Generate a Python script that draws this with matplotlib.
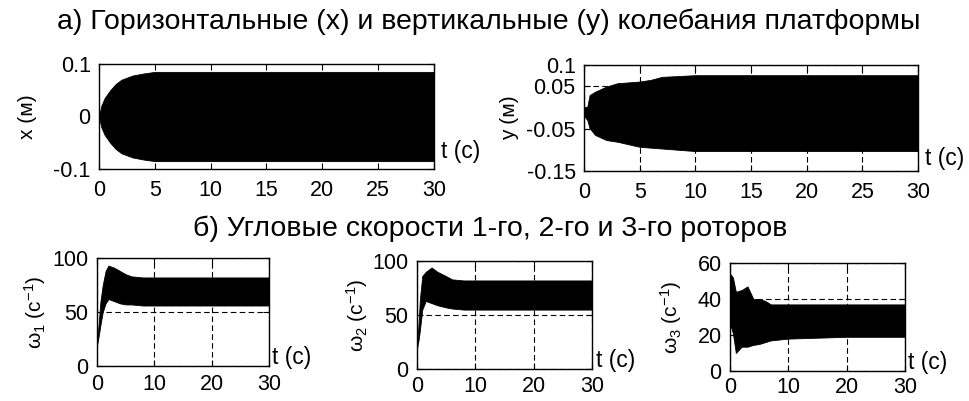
import matplotlib
matplotlib.use("Agg")
import matplotlib.pyplot as plt

plt.rcParams['font.family'] = ['Liberation Sans', 'DejaVu Sans']
plt.rcParams['mathtext.fontset'] = 'custom'
plt.rcParams['mathtext.rm'] = 'Liberation Sans'
plt.rcParams['mathtext.it'] = 'Liberation Sans:italic'

# ---- data: envelopes of the oscillating signals ----
x_t     = [0, 0.2, 0.5, 1, 1.5, 2, 3, 4, 5, 7, 10, 15, 20, 25, 30]
x_upper = [0, 0.02, 0.035, 0.05, 0.062, 0.07, 0.078, 0.082, 0.085, 0.085, 0.085, 0.085, 0.085, 0.085, 0.085]
x_lower = [0, -0.02, -0.035, -0.05, -0.062, -0.07, -0.078, -0.082, -0.085, -0.085, -0.085, -0.085, -0.085, -0.085, -0.085]

y_t     = [0, 0.3, 0.5, 1, 2, 3, 5, 6, 7, 10, 15, 20, 25, 30]
y_upper = [0.0, 0.002, 0.029, 0.037, 0.049, 0.057, 0.061, 0.065, 0.072, 0.076, 0.076, 0.076, 0.076, 0.076]
y_lower = [-0.02, -0.03, -0.049, -0.065, -0.077, -0.081, -0.093, -0.095, -0.097, -0.103, -0.103, -0.103, -0.103, -0.103]

w1_t     = [0, 0.3, 0.6, 1, 1.5, 2, 3, 4, 5, 6, 8, 10, 20, 30]
w1_upper = [19, 40, 60, 75, 88, 93, 91, 88, 85, 83, 82, 82, 82, 82]
w1_lower = [19, 28, 38, 50, 58, 62, 60, 58, 57, 57, 56, 56, 56, 56]

w2_t     = [0, 0.3, 0.5, 0.9, 1.5, 2.5, 3.5, 5, 6, 8, 10, 20, 30]
w2_upper = [19, 45, 65, 86, 90, 94, 90, 86, 83, 82, 82, 82, 82]
w2_lower = [19, 28, 36, 55, 63, 61, 59, 57, 56, 55, 55, 55, 55]

w3_t     = [0, 0.5, 1, 2, 3, 4, 5, 6, 7, 10, 20, 30]
w3_upper = [54, 52, 44, 45, 47, 40, 40, 39, 37, 37, 37, 37]
w3_lower = [26, 21, 10, 13.5, 13.5, 14.5, 15, 16, 17, 18, 19, 19]

title_a = "а) Горизонтальные (x) и вертикальные (y) колебания платформы"
title_b = "б) Угловые скорости 1-го, 2-го и 3-го роторов"
t_label = "t (с)"

W, H = 970, 401
fig = plt.figure(figsize=(W / 100, H / 100), dpi=100)


def px_axes(left, top, right, bottom):
    return fig.add_axes([left / W, 1 - bottom / H, (right - left) / W, (bottom - top) / H])


def style(ax, xticks, yticks, ylim, grid, ylabel, tl_y, lpad, xpad):
    ax.set_xlim(0, 30)
    ax.set_ylim(*ylim)
    ax.set_xticks(xticks)
    ax.set_yticks(yticks)
    ax.set_xticklabels([f"{v:g}" for v in xticks])
    ax.set_yticklabels([f"{v:g}" for v in yticks])
    ax.tick_params(direction='in', top=True, right=True, length=4, width=0.8,
                   labelsize=15.5)
    ax.tick_params(axis='x', pad=xpad)
    ax.tick_params(axis='y', pad=6)
    for s in ax.spines.values():
        s.set_linewidth(1.0)
    if grid:
        ax.grid(True, linestyle=(0, (5, 3)), color='black', linewidth=0.8)
        ax.set_axisbelow(False)
    ax.set_ylabel(ylabel, fontsize=15, labelpad=lpad)
    ax.text(1.02, tl_y, t_label, transform=ax.transAxes, fontsize=16.5,
            ha='left', va='center')


def draw(ax, t, up, lo):
    ax.fill_between(t, lo, up, color='black', linewidth=0.6, zorder=1)


ax1 = px_axes(99, 64, 434, 169)
draw(ax1, x_t, x_upper, x_lower)
style(ax1, [0, 5, 10, 15, 20, 25, 30], [-0.1, 0, 0.1], (-0.1, 0.1), False, "x (м)", 0.17, 12, 8)

ax2 = px_axes(584, 65, 918, 171)
draw(ax2, y_t, y_upper, y_lower)
style(ax2, [0, 5, 10, 15, 20, 25, 30], [-0.15, -0.05, 0.05, 0.1], (-0.15, 0.1), True, "y (м)", 0.12, 5, 8)

ax3 = px_axes(97, 258, 269, 366)
draw(ax3, w1_t, w1_upper, w1_lower)
style(ax3, [0, 10, 20, 30], [0, 50, 100], (0, 100), True, r"ω$_1$ (с$^{-1}$)", 0.08, 3, 6)

ax4 = px_axes(417, 261, 592, 369)
draw(ax4, w2_t, w2_upper, w2_lower)
style(ax4, [0, 10, 20, 30], [0, 50, 100], (0, 100), True, r"ω$_2$ (с$^{-1}$)", 0.08, 2, 5)

ax5 = px_axes(730, 263, 905, 371)
draw(ax5, w3_t, w3_upper, w3_lower)
style(ax5, [0, 10, 20, 30], [0, 20, 40, 60], (0, 60), True, r"ω$_3$ (с$^{-1}$)", 0.08, 10, 4)

fig.text(489 / W, 1 - 22 / H, title_a, ha='center', va='center', fontsize=20.5)
fig.text(490 / W, 1 - 229 / H, title_b, ha='center', va='center', fontsize=20.5)

fig.savefig("out.png", dpi=100, facecolor='white')
